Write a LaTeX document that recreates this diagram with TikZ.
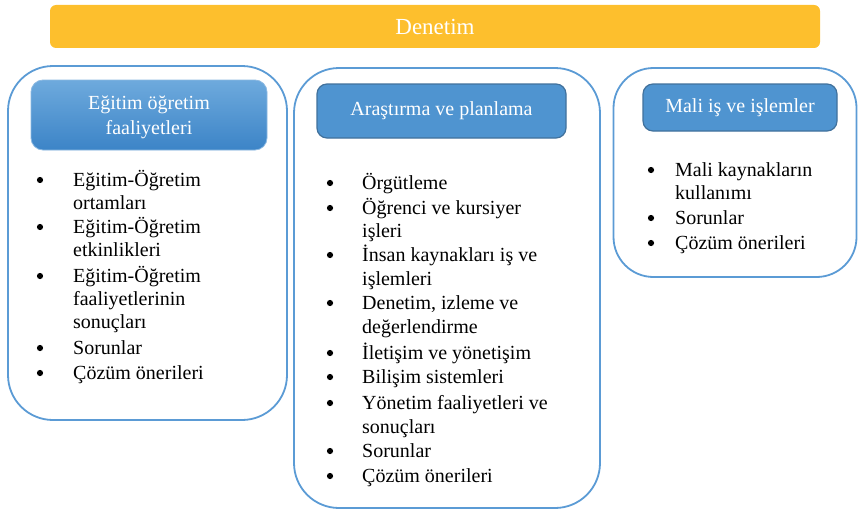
\documentclass[tikz,border=0pt]{standalone}
\usepackage{fontspec}
\setmainfont{Liberation Serif}
\definecolor{gold}{RGB}{253,191,45}
\definecolor{outl}{RGB}{91,155,213}
\definecolor{hdfill}{RGB}{79,148,208}
\definecolor{hddraw}{RGB}{65,113,156}
\definecolor{gtop}{RGB}{110,170,221}
\definecolor{gbot}{RGB}{60,132,199}
\begin{document}
\begin{tikzpicture}[x=1pt,y=-1pt,
  every node/.style={font=\fontsize{20pt}{24.4pt}\selectfont},
  outerbox/.style={draw=outl,line width=1.8pt,fill=white,rounded corners=45pt,inner sep=0pt},
  hdbox/.style={draw=hddraw,line width=1.2pt,fill=hdfill,rounded corners=10pt,text=white,inner sep=0pt,align=center},
  gradbox/.style={draw=outl!70,line width=0.8pt,top color=gtop,bottom color=gbot,rounded corners=12pt,text=white,inner sep=0pt,align=center},
  bul/.style={circle,fill=black,inner sep=0pt,minimum size=6.2pt},
  itm/.style={anchor=base west,inner sep=0pt}]
\useasboundingbox (0,0) rectangle (858,511);
% title bar
\node[fill=gold,rounded corners=6pt,minimum width=770pt,minimum height=43pt,inner sep=0pt,text=white,font=\fontsize{23pt}{24pt}\selectfont] (top) at (435,26.5) {Denetim};
% outer boxes
\node[outerbox,minimum width=279pt,minimum height=354pt] (o1) at (147.5,243) {};
\node[outerbox,minimum width=306pt,minimum height=440pt] (o2) at (447,288) {};
\node[outerbox,rounded corners=40pt,minimum width=243pt,minimum height=209pt] (o3) at (735,172.5) {};
% headers
\node[gradbox,minimum width=236pt,minimum height=70pt] (h1) at (149,115) {};
\node[anchor=base,text=white,inner sep=0pt] (h1a) at (149,109) {Eğitim öğretim};
\node[anchor=base,text=white,inner sep=0pt] (h1b) at (149,134) {faaliyetleri};
\node[hdbox,minimum width=249pt,minimum height=54pt] (h2) at (441.5,111) {Araştırma ve planlama};
\node[hdbox,minimum width=194pt,minimum height=47pt] (h3) at (740,107.5) {Mali iş ve işlemler};
% list 1  (name/baseline/bullet?/text)
\foreach \n/\y/\b/\t in {a/186/1/{Eğitim-Öğretim},
                         b/209/0/{ortamları},
                         c/233/1/{Eğitim-Öğretim},
                         d/256/0/{etkinlikleri},
                         e/282/1/{Eğitim-Öğretim},
                         f/305/0/{faaliyetlerinin},
                         g/328/0/{sonuçları},
                         h/354/1/{Sorunlar},
                         i/379/1/{Çözüm önerileri}}{
  \ifnum\b=1 \node[bul] (b1\n) at (40,\y-6) {};\fi
  \node[itm] (t1\n) at (73,\y) {\t};
}
% list 2
\foreach \n/\y/\b/\t in {a/189/1/{Örgütleme},
                         b/214/1/{Öğrenci ve kursiyer},
                         c/237/0/{işleri},
                         d/261/1/{İnsan kaynakları iş ve},
                         e/285/0/{işlemleri},
                         f/309/1/{Denetim, izleme ve},
                         g/333/0/{değerlendirme},
                         h/359/1/{İletişim ve yönetişim},
                         i/383/1/{Bilişim sistemleri},
                         j/409/1/{Yönetim faaliyetleri ve},
                         k/433/0/{sonuçları},
                         l/457/1/{Sorunlar},
                         m/482/1/{Çözüm önerileri}}{
  \ifnum\b=1 \node[bul] (b2\n) at (330,\y-6) {};\fi
  \node[itm] (t2\n) at (362,\y) {\t};
}
% list 3
\foreach \n/\y/\b/\t in {a/176/1/{Mali kaynakların},
                         b/199/0/{kullanımı},
                         c/224/1/{Sorunlar},
                         d/249/1/{Çözüm önerileri}}{
  \ifnum\b=1 \node[bul] (b3\n) at (651,\y-6) {};\fi
  \node[itm] (t3\n) at (675,\y) {\t};
}
\end{tikzpicture}
\end{document}
